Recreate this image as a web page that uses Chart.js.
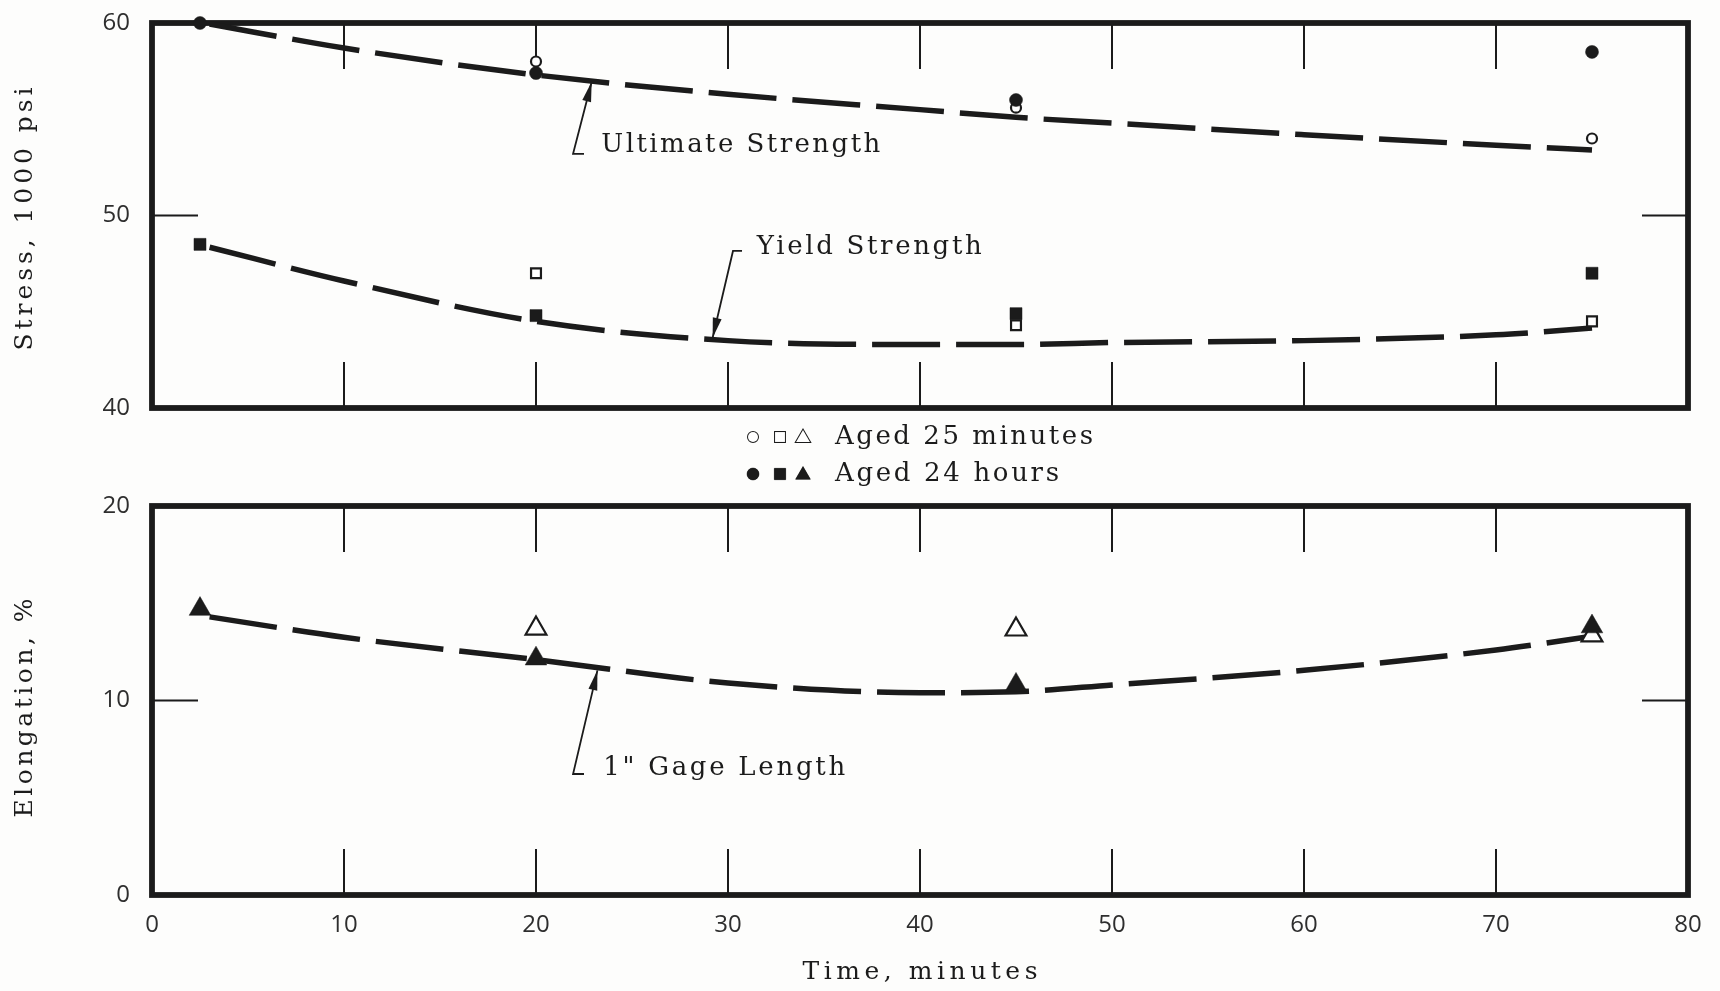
<!DOCTYPE html>
<html>
<head>
<meta charset="utf-8">
<script src="https://cdn.jsdelivr.net/npm/chart.js@4.4.1/dist/chart.umd.min.js"></script>
<style>
  html, body { margin: 0; padding: 0; background: #fdfdfc; }
  #wrap { position: relative; width: 1720px; height: 991px; overflow: hidden; }
  #stressChart { position: absolute; left: 0; top: 0; }
  #elongChart { position: absolute; left: 0; top: 420px; }
</style>
</head>
<body>
<div id="wrap">
  <canvas id="stressChart" width="1720" height="420"></canvas>
  <canvas id="elongChart" width="1720" height="571"></canvas>
</div>
<script>
// ---- axis ticks ----
const timeTicks = [0, 10, 20, 30, 40, 50, 60, 70, 80];
const stressTicks = [40, 50, 60];
const elongTicks = [0, 10, 20];

// ---- test results (time in minutes) ----
const times24h = [2.5, 20, 45, 75];
const times25m = [20, 45, 75];

const ultimate24h = [60.0, 57.4, 56.0, 58.5];   // 1000 psi
const ultimate25m = [58.0, 55.6, 54.0];
const yield24h = [48.5, 44.8, 44.9, 47.0];
const yield25m = [47.0, 44.3, 44.5];
const elong24h = [14.7, 12.15, 10.8, 13.8];     // %
const elong25m = [13.7, 13.65, 13.35];

// ---- faired trend curves ----
const fitTimes = [3, 10, 20, 30, 40, 45, 50, 60, 70, 75];
const ultimateFit = [59.95, 58.7, 57.3, 56.3, 55.5, 55.1, 54.8, 54.2, 53.65, 53.4];
const yieldFit = [48.35, 46.6, 44.5, 43.5, 43.3, 43.3, 43.4, 43.5, 43.8, 44.15];
const elongFit = [14.3, 13.25, 12.1, 10.9, 10.4, 10.45, 10.8, 11.55, 12.6, 13.3];

const INK = '#1b1b1b';
const SERIF = '"DejaVu Serif", "Liberation Serif", serif';
const SANS = '"Open Sans", "Liberation Sans", sans-serif';

const pairs = (xs, ys) => xs.map((x, i) => ({ x, y: ys[i] }));

function curve(ys) {
  return {
    data: pairs(fitTimes, ys),
    showLine: true,
    borderColor: INK,
    borderWidth: 5.5,
    borderDash: [68, 16],
    borderCapStyle: 'butt',
    cubicInterpolationMode: 'monotone',
    pointRadius: 0,
    pointHoverRadius: 0,
    fill: false,
    clip: false,
    order: 1
  };
}

function marker(xs, ys, style, radius, filled) {
  return {
    data: pairs(xs, ys),
    showLine: false,
    pointStyle: style,
    pointRadius: radius,
    pointHoverRadius: radius,
    pointBackgroundColor: filled ? INK : '#ffffff',
    pointBorderColor: INK,
    pointBorderWidth: filled ? 0.5 : 2.2,
    clip: false,
    order: 0
  };
}

// text stretched to a given run length, the way the lettering is spaced
function spacedText(ctx, text, x, y, width, align) {
  ctx.save();
  ctx.letterSpacing = '0px';
  const w = ctx.measureText(text).width;
  const sp = text.length > 1 ? (width - w) / (text.length - 1) : 0;
  ctx.letterSpacing = sp + 'px';
  ctx.textAlign = 'left';
  const x0 = align === 'center' ? x - width / 2 : x;
  ctx.fillText(text, x0, y);
  ctx.restore();
}

const decor = {
  id: 'decor',
  beforeDatasetsDraw(chart, args, o) {
    const { ctx, chartArea: a, scales: { x, y } } = chart;
    ctx.save();
    ctx.strokeStyle = INK;
    ctx.lineWidth = 2;
    ctx.beginPath();
    o.xMarks.forEach(v => {
      const px = x.getPixelForValue(v);
      ctx.moveTo(px, a.top); ctx.lineTo(px, a.top + o.markLen);
      ctx.moveTo(px, a.bottom); ctx.lineTo(px, a.bottom - o.markLen);
    });
    o.yMarks.forEach(v => {
      const py = y.getPixelForValue(v);
      ctx.moveTo(a.left, py); ctx.lineTo(a.left + o.markLen, py);
      ctx.moveTo(a.right, py); ctx.lineTo(a.right - o.markLen, py);
    });
    ctx.stroke();
    ctx.lineWidth = 5.8;
    ctx.lineJoin = 'miter';
    ctx.strokeRect(a.left, a.top, a.right - a.left, a.bottom - a.top);
    ctx.restore();
  },
  afterDatasetsDraw(chart, args, o) {
    const { ctx, scales: { x, y } } = chart;
    ctx.save();
    ctx.fillStyle = INK;
    ctx.strokeStyle = INK;
    (o.notes || []).forEach(n => {
      const tx = x.getPixelForValue(n.tip[0]), ty = y.getPixelForValue(n.tip[1]);
      const cx = x.getPixelForValue(n.corner[0]), cy = y.getPixelForValue(n.corner[1]);
      const fx = x.getPixelForValue(n.foot[0]);
      ctx.lineWidth = 1.8;
      ctx.beginPath();
      ctx.moveTo(fx, cy); ctx.lineTo(cx, cy); ctx.lineTo(tx, ty);
      ctx.stroke();
      const ang = Math.atan2(ty - cy, tx - cx);
      const L = 20, W = 4.5, c = Math.cos(ang), s = Math.sin(ang);
      ctx.beginPath();
      ctx.moveTo(tx, ty);
      ctx.lineTo(tx - L * c + W * s, ty - L * s - W * c);
      ctx.lineTo(tx - L * c - W * s, ty - L * s + W * c);
      ctx.closePath();
      ctx.fill();
      ctx.font = '26px ' + SERIF;
      ctx.textBaseline = 'middle';
      spacedText(ctx, n.text, x.getPixelForValue(n.at[0]), y.getPixelForValue(n.at[1]), n.width, 'left');
    });
    ctx.restore();
  },
  afterDraw(chart, args, o) {
    const { ctx } = chart;
    ctx.save();
    ctx.fillStyle = INK;
    ctx.textBaseline = 'middle';
    (o.titles || []).forEach(t => {
      ctx.font = t.size + 'px ' + SERIF;
      ctx.save();
      ctx.translate(t.cx, t.cy);
      if (t.vertical) ctx.rotate(-Math.PI / 2);
      spacedText(ctx, t.text, 0, 0, t.width, 'center');
      ctx.restore();
    });
    (o.legend || []).forEach(row => {
      row.symbols.forEach((sym, i) => {
        ctx.fillStyle = row.filled ? INK : '#ffffff';
        ctx.strokeStyle = INK;
        ctx.lineWidth = row.filled ? 0.5 : 2;
        Chart.helpers.drawPoint(ctx, { pointStyle: sym.style, radius: sym.r, borderWidth: ctx.lineWidth, rotation: 0 }, row.xs[i], row.y + (sym.dy || 0));
        ctx.fill();
      });
      ctx.fillStyle = INK;
      ctx.font = '26px ' + SERIF;
      spacedText(ctx, row.text, row.textX, row.y, row.width, 'left');
    });
    ctx.restore();
  }
};

const tickFont = { family: SANS, size: 24 };
const innerTimeMarks = timeTicks.slice(1, -1);

function yScale(min, max, ticks) {
  return {
    type: 'linear', min, max,
    afterBuildTicks: s => { s.ticks = ticks.map(v => ({ value: v })); },
    afterFit: s => {
      s.width = 152;
      // end labels may overhang the frame; don't let them push it inward
      s.paddingTop = 0;
      s.paddingBottom = 0;
    },
    grid: { display: false, drawTicks: false },
    border: { display: false },
    ticks: { padding: 22, font: tickFont, color: '#2e2e2e' }
  };
}

const stressChart = new Chart(document.getElementById('stressChart'), {
  type: 'scatter',
  data: {
    datasets: [
      curve(ultimateFit),
      curve(yieldFit),
      marker(times24h, ultimate24h, 'circle', 6.5, true),
      marker(times25m, ultimate25m, 'circle', 5, false),
      marker(times24h, yield24h, 'rect', 8.5, true),
      marker(times25m, yield25m, 'rect', 7, false)
    ]
  },
  options: {
    responsive: false,
    animation: false,
    devicePixelRatio: 1,
    layout: { autoPadding: false, padding: { top: 23, right: 32, bottom: 0, left: 0 } },
    events: [],
    plugins: {
      legend: { display: false },
      tooltip: { enabled: false },
      decor: {
        xMarks: innerTimeMarks,
        yMarks: stressTicks.slice(1, -1),
        markLen: 46,
        notes: [
          { text: 'Ultimate Strength', at: [23.4, 53.66], width: 279, tip: [22.9, 56.95], corner: [21.93, 53.2], foot: [22.5, 53.2] },
          { text: 'Yield Strength', at: [31.5, 48.36], width: 225, tip: [29.2, 43.65], corner: [30.26, 48.16], foot: [30.73, 48.16] }
        ],
        titles: [
          { text: 'Stress, 1000 psi', cx: 25, cy: 219, width: 263, size: 25, vertical: true }
        ]
      }
    },
    scales: {
      x: {
        type: 'linear', min: 0, max: 80,
        afterFit: s => { s.height = 12; },
        grid: { display: false, drawTicks: false },
        border: { display: false },
        ticks: { display: false }
      },
      y: yScale(40, 60, stressTicks)
    }
  },
  plugins: [decor]
});

const elongChart = new Chart(document.getElementById('elongChart'), {
  type: 'scatter',
  data: {
    datasets: [
      curve(elongFit),
      marker(times24h, elong24h, 'triangle', 12.5, true),
      marker(times25m, elong25m, 'triangle', 12, false)
    ]
  },
  options: {
    responsive: false,
    animation: false,
    devicePixelRatio: 1,
    layout: { autoPadding: false, padding: { top: 86, right: 32, bottom: 0, left: 0 } },
    events: [],
    plugins: {
      legend: { display: false },
      tooltip: { enabled: false },
      decor: {
        xMarks: innerTimeMarks,
        yMarks: elongTicks.slice(1, -1),
        markLen: 46,
        notes: [
          { text: '1" Gage Length', at: [23.5, 6.53], width: 242, tip: [23.2, 11.55], corner: [21.93, 6.22], foot: [22.5, 6.22] }
        ],
        titles: [
          { text: 'Elongation, %', cx: 25, cy: 288, width: 219, size: 25, vertical: true },
          { text: 'Time, minutes', cx: 920, cy: 552, width: 235, size: 25, vertical: false }
        ],
        legend: [
          { filled: false, y: 17, xs: [753, 780, 803], text: 'Aged 25 minutes', textX: 835, width: 258,
            symbols: [{ style: 'circle', r: 5 }, { style: 'rect', r: 7 }, { style: 'triangle', r: 8, dy: 1 }] },
          { filled: true, y: 54, xs: [753, 780, 803], text: 'Aged 24 hours', textX: 835, width: 224,
            symbols: [{ style: 'circle', r: 6 }, { style: 'rect', r: 8 }, { style: 'triangle', r: 8.5, dy: 1 }] }
        ]
      }
    },
    scales: {
      x: {
        type: 'linear', min: 0, max: 80,
        afterBuildTicks: s => { s.ticks = timeTicks.map(v => ({ value: v })); },
        afterFit: s => { s.height = 96; },
        grid: { display: false, drawTicks: false },
        border: { display: false },
        ticks: { padding: 16, font: tickFont, color: '#2e2e2e', maxRotation: 0 }
      },
      y: yScale(0, 20, elongTicks)
    }
  },
  plugins: [decor]
});
</script>
</body>
</html>
